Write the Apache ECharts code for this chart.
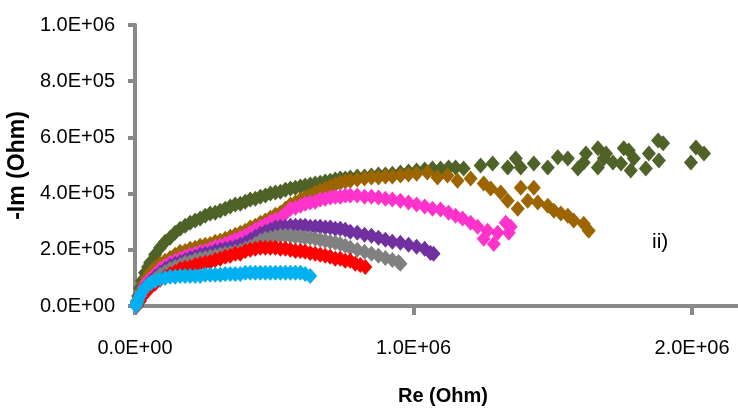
<!DOCTYPE html>
<html>
<head>
<meta charset="utf-8">
<script src="https://cdn.jsdelivr.net/npm/echarts@6/dist/echarts.min.js"></script>
<style>
html,body{margin:0;padding:0;background:#fff;}
#chart{width:738px;height:411px;}
</style>
</head>
<body>
<div id="chart"></div>
<script>
// Values in kOhm (Re, -Im)
const oliveRe = [7,11,18,25,36,47,54,72,90,108,126,144,162,180,198,216,234,252,270,288,306,324,342,360,378,396,414,432,450,468,486,504,522,540,558,576,594,611,629,647,665,683,701,719,737,755,773,798,824,849,874,899,924,953,982,1011,1040,1068,1097,1126,1151,
  1180,1241,1284,1338,1367,1385,1432,1482,1518,1554,1590,1611,1619,1662,1662,1683,1691,1716,1745,1755,1773,1780,1791,1834,1845,1878,1896,1881,1996,2014,2043];
const oliveIm = [18,36,64,89,118,139,154,182,207,229,243,261,275,286,296,304,311,321,329,332,339,346,354,361,364,371,379,382,389,393,400,404,407,414,418,421,425,429,432,436,439,443,446,450,454,454,457,461,461,464,468,468,471,475,479,482,486,489,489,493,493,
  489,500,507,493,525,493,507,493,529,525,489,511,543,561,493,525,543,511,507,561,553,482,525,489,543,589,579,518,511,564,543];

const brownRe = [7,14,22,32,43,54,72,90,108,126,144,162,180,198,216,234,252,270,288,306,324,342,360,378,396,414,432,450,468,486,504,522,540,558,576,594,611,629,647,665,683,701,719,737,755,773,798,824,849,874,899,924,953,982,1011,
  1050,1086,1122,1158,1205,1252,1277,1313,1338,1374,1385,1410,1432,1446,1482,1504,1529,1554,1575,1611,1629];
const brownIm = [11,32,54,79,100,118,136,150,161,171,182,193,196,204,207,214,218,221,229,232,239,246,254,261,268,279,286,296,304,314,325,332,346,361,368,379,386,393,404,411,418,425,432,439,443,446,450,454,457,457,461,461,464,468,471,
  475,457,464,446,454,436,418,404,375,346,421,375,421,368,357,339,329,321,304,293,268];

const pinkRe = [7,14,22,32,43,54,72,90,108,126,144,162,180,198,216,234,252,270,288,306,324,342,360,378,396,414,432,450,468,486,504,522,540,558,576,594,611,629,647,665,683,701,719,737,755,773,798,824,849,874,899,924,953,982,1011,1040,1068,1097,1126,1151,1176,1205,1230,
  1252,1266,1288,1302,1331,1342,1349];
const pinkIm = [7,29,46,68,86,96,114,132,143,154,161,168,175,182,186,193,196,204,211,214,221,229,236,243,250,261,271,282,289,300,307,314,329,346,350,357,364,368,371,379,382,386,389,389,393,393,393,389,389,386,382,379,375,368,361,354,346,343,332,321,311,296,282,
  239,268,221,261,296,261,282];

const purpleRe = [7,18,29,40,54,72,90,108,126,144,162,180,198,216,234,252,270,288,306,324,342,360,378,396,414,432,450,468,486,504,522,540,558,576,594,611,629,647,665,683,701,719,737,755,773,798,824,849,874,899,924,953,982,1011,1040,1061,1072];
const purpleIm = [7,32,54,71,86,104,118,132,143,150,157,164,171,175,182,186,189,196,200,204,207,211,218,225,236,246,257,264,271,279,282,282,286,286,286,286,282,282,282,279,279,275,275,271,264,261,254,250,243,236,229,225,218,211,204,189,186];

const grayRe = [7,18,29,40,54,72,90,108,126,144,162,180,198,216,234,252,270,288,306,324,342,360,378,396,414,432,450,468,486,504,522,540,558,576,594,611,629,647,665,683,701,719,737,755,773,798,824,849,874,899,924,946,953];
const grayIm = [4,29,50,68,82,96,111,121,132,139,146,154,157,164,168,171,175,179,182,186,189,193,196,204,211,221,232,239,243,246,250,250,250,246,246,243,243,239,236,232,229,225,221,214,207,200,193,186,179,171,164,157,150];

const redRe = [7,18,29,40,54,72,90,108,126,144,162,180,198,216,234,252,270,288,306,324,342,360,378,396,414,432,450,468,486,504,522,540,558,576,594,611,629,647,665,683,701,719,737,755,773,791,809,827];
const redIm = [0,18,36,50,64,79,93,104,114,121,132,136,139,146,150,154,157,164,168,175,179,186,186,196,200,204,207,207,207,207,204,204,200,196,196,193,189,186,182,179,175,168,168,161,161,150,146,139];

const cyanRe = [4,7,11,18,25,36,47,58,72,90,108,126,144,162,180,198,216,234,252,270,288,306,324,342,360,378,396,414,432,450,468,486,504,522,540,558,576,594,611,629];
const cyanIm = [0,11,21,36,50,64,75,82,89,96,100,104,104,107,107,107,107,107,111,111,111,111,114,114,114,114,118,118,118,118,118,118,118,118,118,118,118,118,114,107];

const seriesNames = ['olive','brown','pink','purple','gray','red','cyan'];
const seriesRe = [oliveRe, brownRe, pinkRe, purpleRe, grayRe, redRe, cyanRe];
const seriesIm = [oliveIm, brownIm, pinkIm, purpleIm, grayIm, redIm, cyanIm];
const seriesColors = ['#4F6228','#9C6500','#FF33CC','#7030A0','#808080','#FF0000','#00B0F0'];

const xTicks = {min: 0, max: 2165000, interval: 1000000};
const yTicks = {min: 0, max: 1000000, interval: 200000};

function sci(v){
  if (v === 0) return '0.0E+00';
  const e = Math.floor(Math.log10(Math.abs(v)) + 1e-9);
  const m = v / Math.pow(10, e);
  return m.toFixed(1) + 'E' + (e >= 0 ? '+' : '-') + String(Math.abs(e)).padStart(2,'0');
}

const FONT = "'Liberation Sans', Arial, sans-serif";
const axisCol = '#898989';

const chart = echarts.init(document.getElementById('chart'));
chart.setOption({
  animation: false,
  backgroundColor: '#fff',
  grid: {left: 135, right: 0, top: 25, bottom: 105, containLabel: false, outerBoundsMode: 'none'},
  xAxis: {
    type: 'value', min: xTicks.min, max: xTicks.max, interval: xTicks.interval,
    name: 'Re (Ohm)', nameLocation: 'middle', nameGap: 80,
    nameTextStyle: {fontFamily: FONT, fontWeight: 'bold', fontSize: 20, color: '#000', padding: [0,0,0,13]},
    axisLine: {show: true, onZero: false, lineStyle: {color: axisCol, width: 4}},
    axisTick: {show: true, length: 9, lineStyle: {color: axisCol, width: 4}},
    axisLabel: {margin: 32, fontFamily: FONT, fontSize: 20, color: '#000', formatter: sci, showMaxLabel: false},
    splitLine: {show: false}
  },
  yAxis: {
    type: 'value', min: yTicks.min, max: yTicks.max, interval: yTicks.interval,
    name: '-Im (Ohm)', nameLocation: 'middle', nameGap: 101, nameRotate: 90,
    nameTextStyle: {fontFamily: FONT, fontWeight: 'bold', fontSize: 23, color: '#000'},
    axisLine: {show: true, onZero: false, lineStyle: {color: axisCol, width: 4}},
    axisTick: {show: true, length: 7, lineStyle: {color: axisCol, width: 4}},
    axisLabel: {margin: 20, fontFamily: FONT, fontSize: 20, color: '#000', formatter: sci},
    splitLine: {show: false}
  },
  graphic: [{
    type: 'text', left: 652, top: 232, z: 10,
    style: {text: 'ii)', fontFamily: FONT, fontSize: 21, fill: '#000'}
  }],
  series: seriesNames.map((n, i) => ({
    name: n, type: 'scatter', symbol: 'diamond', symbolSize: [14, 16],
    itemStyle: {color: seriesColors[i], opacity: 1},
    data: seriesRe[i].map((r, j) => [r * 1000, seriesIm[i][j] * 1000]),
    z: 2 + i
  }))
});
</script>
</body>
</html>
